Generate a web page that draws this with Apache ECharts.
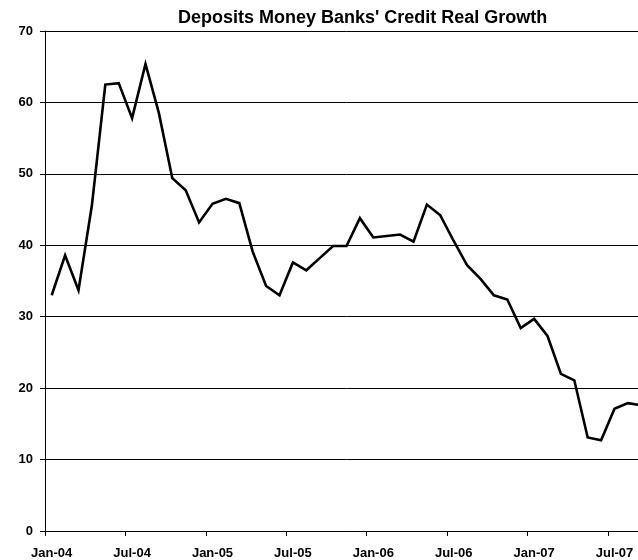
<!DOCTYPE html>
<html>
<head>
<meta charset="utf-8">
<title>Deposits Money Banks' Credit Real Growth</title>
<script src="https://cdn.jsdelivr.net/npm/echarts@6/dist/echarts.min.js"></script>
<style>
  html, body { margin: 0; padding: 0; background: #fff; overflow: hidden; }
  /* drawing surface is slightly wider than the window; the plot runs off the right edge */
  #chart { width: 648px; height: 560px; }
</style>
</head>
<body>
<div id="chart"></div>
<script>
// Monthly categories, Jan-04 .. Sep-07
const months = [
  'Jan-04','Feb-04','Mar-04','Apr-04','May-04','Jun-04','Jul-04','Aug-04','Sep-04','Oct-04','Nov-04','Dec-04',
  'Jan-05','Feb-05','Mar-05','Apr-05','May-05','Jun-05','Jul-05','Aug-05','Sep-05','Oct-05','Nov-05','Dec-05',
  'Jan-06','Feb-06','Mar-06','Apr-06','May-06','Jun-06','Jul-06','Aug-06','Sep-06','Oct-06','Nov-06','Dec-06',
  'Jan-07','Feb-07','Mar-07','Apr-07','May-07','Jun-07','Jul-07','Aug-07','Sep-07'
];

// Real growth of deposit money banks' credit, % y/y
const creditGrowth = [
  33.0, 38.6, 33.7, 45.6, 62.5, 62.7, 57.8, 65.4, 58.5, 49.4, 47.7, 43.2,
  45.8, 46.5, 45.9, 39.1, 34.3, 33.0, 37.6, 36.5, 38.2, 39.9, 39.9, 43.8,
  41.1, 41.3, 41.5, 40.5, 45.7, 44.2, 40.6, 37.2, 35.3, 33.0, 32.4, 28.4,
  29.7, 27.3, 22.0, 21.1, 13.1, 12.7, 17.1, 17.9, 17.6
];

const yTicks = { min: 0, max: 70, step: 10 };

const FONT = '"Liberation Sans", Arial, sans-serif';

const chart = echarts.init(document.getElementById('chart'), null, { renderer: 'canvas' });

chart.setOption({
  animation: false,
  backgroundColor: '#ffffff',
  title: {
    text: "Deposits Money Banks' Credit Real Growth",
    left: 173,
    top: 4,
    textStyle: {
      fontFamily: FONT,
      fontSize: 18,
      fontWeight: 'bold',
      color: '#000'
    }
  },
  grid: {
    left: 45,
    top: 31,
    right: 0,
    bottom: 29,
    containLabel: false
  },
  xAxis: {
    type: 'category',
    data: months,
    boundaryGap: true,
    axisLine: { show: true, lineStyle: { color: '#000', width: 1 } },
    axisTick: { show: true, interval: 5, length: 5, lineStyle: { color: '#000' } },
    axisLabel: {
      interval: 5,
      margin: 16,
      fontFamily: FONT,
      fontSize: 13,
      fontWeight: 'bold',
      color: '#000'
    },
    splitLine: { show: false }
  },
  yAxis: {
    type: 'value',
    min: yTicks.min,
    max: yTicks.max,
    interval: yTicks.step,
    axisLine: { show: true, lineStyle: { color: '#000', width: 1 } },
    axisTick: { show: true, length: 5, lineStyle: { color: '#000' } },
    axisLabel: {
      margin: 12,
      fontFamily: FONT,
      fontSize: 13,
      fontWeight: 'bold',
      color: '#000'
    },
    splitLine: { show: true, lineStyle: { color: '#000', width: 1 } }
  },
  series: [{
    type: 'line',
    data: creditGrowth,
    showSymbol: false,
    symbol: 'none',
    lineStyle: { color: '#000', width: 2.6, join: 'miter' },
    clip: true
  }]
});
</script>
</body>
</html>
